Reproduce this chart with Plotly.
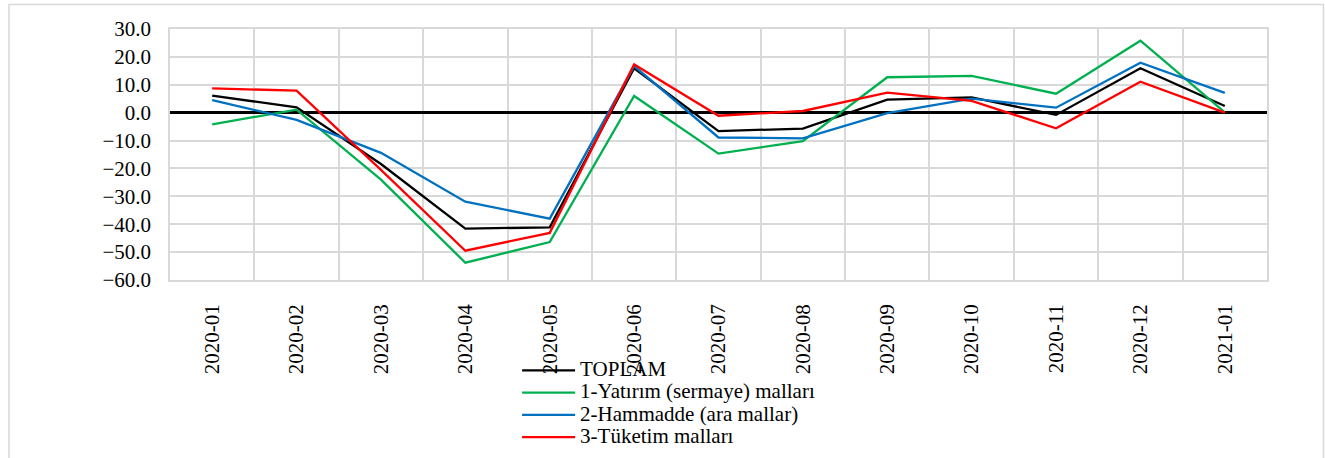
import plotly.graph_objects as go

# aylar
months = ["2020-01", "2020-02", "2020-03", "2020-04", "2020-05", "2020-06", "2020-07",
          "2020-08", "2020-09", "2020-10", "2020-11", "2020-12", "2021-01"]

# yıllık değişim (%)
toplam = [6.1, 1.9, -18.4, -41.6, -41.1, 15.9, -6.6, -5.7, 4.7, 5.5, -0.8, 15.9, 2.4]
yatirim = [-4.2, 1.1, -24.0, -53.8, -46.4, 6.0, -14.7, -10.2, 12.7, 13.2, 6.8, 25.8, 0.1]
hammadde = [4.5, -2.6, -14.4, -31.9, -38.0, 16.7, -8.9, -9.2, -0.2, 5.0, 1.8, 17.9, 7.1]
tuketim = [8.7, 7.9, -20.5, -49.5, -43.1, 17.3, -1.1, 0.6, 7.2, 4.2, -5.6, 11.1, 0.0]

series = [
    ("TOPLAM", toplam, "#000000"),
    ("1-Yatırım (sermaye) malları", yatirim, "#00b050"),
    ("2-Hammadde (ara mallar)", hammadde, "#0070c0"),
    ("3-Tüketim malları", tuketim, "#ff0000"),
]

FONT = "Liberation Serif"
FS = 21

fig = go.Figure()
for name, values, color in series:
    fig.add_trace(go.Scatter(
        x=months,
        y=values,
        name='<span style="font-size:%dpx">%s</span>' % (FS, name),
        mode="lines",
        line=dict(color=color, width=2.3),
    ))

fig.update_layout(
    width=1325,
    height=458,
    margin=dict(l=170, r=58, t=29, b=178, autoexpand=False),
    paper_bgcolor="white",
    plot_bgcolor="white",
    font=dict(family=FONT, size=FS, color="black"),
    showlegend=True,
    legend=dict(
        x=0.3164, y=-0.296, xanchor="left", yanchor="top",
        bgcolor="rgba(0,0,0,0)",
        font=dict(family=FONT, size=14.8, color="black"),
        itemwidth=53,
        tracegroupgap=0,
    ),
    # çerçeve
    shapes=[dict(
        type="rect", xref="paper", yref="paper",
        x0=-0.1468, x1=1.0515, y0=-0.8, y1=1.098,
        line=dict(color="#d9d9d9", width=1.5),
        layer="below",
    )],
)

fig.update_xaxes(
    type="category",
    range=[-0.5, 12.5],
    tickson="boundaries",
    showgrid=True,
    gridcolor="#d9d9d9",
    gridwidth=1.5,
    showline=True,
    mirror=True,
    linecolor="#d9d9d9",
    linewidth=1.5,
    tickangle=-90,
    ticks="",
    ticklabelstandoff=14,
    tickfont=dict(family=FONT, size=FS, color="black"),
    zeroline=False,
)

fig.update_yaxes(
    range=[-60, 30],
    dtick=10,
    tickformat=".1f",
    showgrid=True,
    gridcolor="#d9d9d9",
    gridwidth=1.5,
    showline=True,
    mirror=True,
    linecolor="#d9d9d9",
    linewidth=1.5,
    zeroline=True,
    zerolinecolor="black",
    zerolinewidth=2.7,
    ticks="",
    ticklabelstandoff=13,
    tickfont=dict(family=FONT, size=FS, color="black"),
)

fig.write_html("out.html", config={"displayModeBar": False},
               post_script="document.body.style.margin='0';")
